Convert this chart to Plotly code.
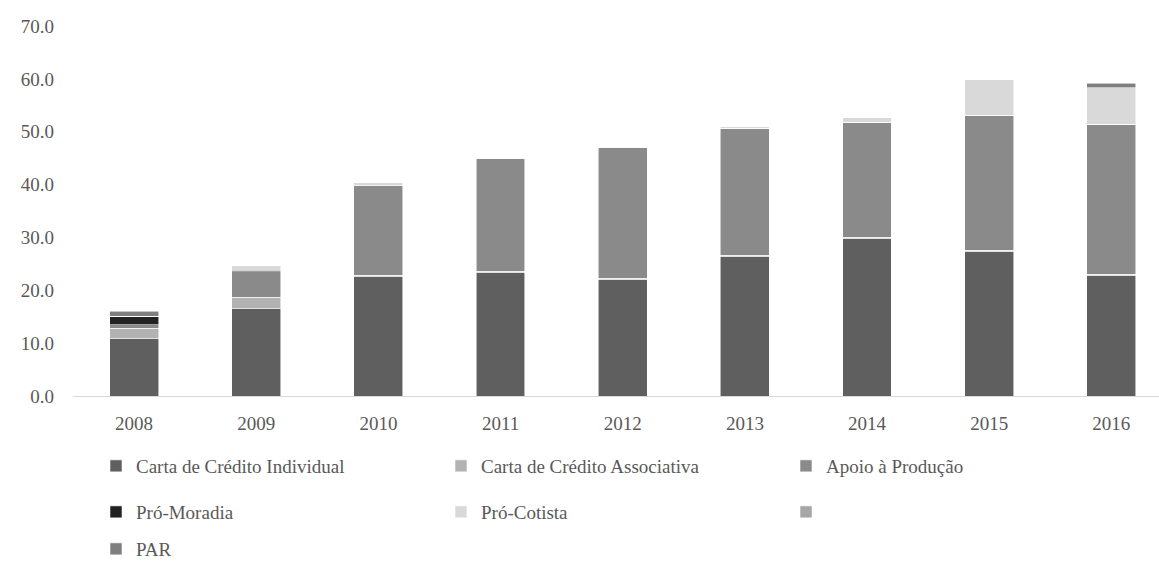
import plotly.graph_objects as go

years = ["2008", "2009", "2010", "2011", "2012", "2013", "2014", "2015", "2016"]

carta_individual = [10.9, 16.6, 22.6, 23.4, 22.1, 26.4, 29.8, 27.4, 22.8]
carta_associativa = [1.9, 2.1, 0.2, 0.2, 0.2, 0.2, 0.2, 0.2, 0.2]
apoio_producao = [0.7, 4.8, 17.0, 21.3, 24.8, 24.1, 21.8, 25.5, 28.4]
pro_moradia = [1.6, 0.3, 0.0, 0.0, 0.0, 0.0, 0.0, 0.0, 0.0]
pro_cotista = [0.0, 0.8, 0.6, 0.1, 0.1, 0.2, 0.9, 6.8, 6.9]
sem_nome = [0.0, 0.0, 0.0, 0.0, 0.0, 0.0, 0.0, 0.0, 0.0]
par = [0.9, 0.0, 0.0, 0.0, 0.0, 0.0, 0.0, 0.0, 0.9]

series = [
    ("Carta de Crédito Individual", carta_individual, "#5f5f5f", "legend"),
    ("Carta de Crédito Associativa", carta_associativa, "#b2b2b2", "legend"),
    ("Apoio à Produção", apoio_producao, "#8a8a8a", "legend"),
    ("Pró-Moradia", pro_moradia, "#222222", "legend2"),
    ("Pró-Cotista", pro_cotista, "#d9d9d9", "legend2"),
    (" ", sem_nome, "#a6a6a6", "legend2"),
    ("PAR", par, "#7f7f7f", "legend3"),
]

FONT = "Liberation Serif"
TXT = "#595959"
FS = 19

fig = go.Figure()
for name, vals, color, lg in series:
    fig.add_trace(go.Bar(
        x=years, y=vals, name=name, legend=lg,
        marker=dict(color=color, line=dict(color="rgba(255,255,255,0.7)", width=0.8)),
        width=0.4,
    ))

W, H = 1159, 563
ml, mt, mb = 73, 26, 167
ph = H - mt - mb

def py(ypix):
    return (H - mb - ypix) / ph

leg_common = dict(orientation="h", xanchor="left", yanchor="middle",
                  entrywidth=300, entrywidthmode="pixels",
                  font=dict(family=FONT, size=FS, color=TXT),
                  bgcolor="rgba(0,0,0,0)", traceorder="normal")
lx = (96 - ml) / (W - ml)

fig.update_layout(
    width=W, height=H,
    margin=dict(l=ml, r=0, t=mt, b=mb, autoexpand=False),
    barmode="stack",
    plot_bgcolor="white", paper_bgcolor="white",
    font=dict(family=FONT, size=FS, color=TXT),
    legend=dict(x=lx, y=py(466), **leg_common),
    legend2=dict(x=lx, y=py(512), **leg_common),
    legend3=dict(x=lx, y=py(549), **leg_common),
    xaxis=dict(range=[-0.5, 8.39], showgrid=False, showline=True, linecolor="#d9d9d9",
               linewidth=1, ticks="", ticklabelstandoff=10,
               tickfont=dict(family=FONT, size=FS, color=TXT)),
    yaxis=dict(range=[0, 70], dtick=10, tickformat=".1f", showgrid=False,
               zeroline=False, showline=False, ticks="", ticklabelstandoff=18,
               tickfont=dict(family=FONT, size=FS, color=TXT)),
    bargap=0.6,
)

fig.write_html("out.html")
